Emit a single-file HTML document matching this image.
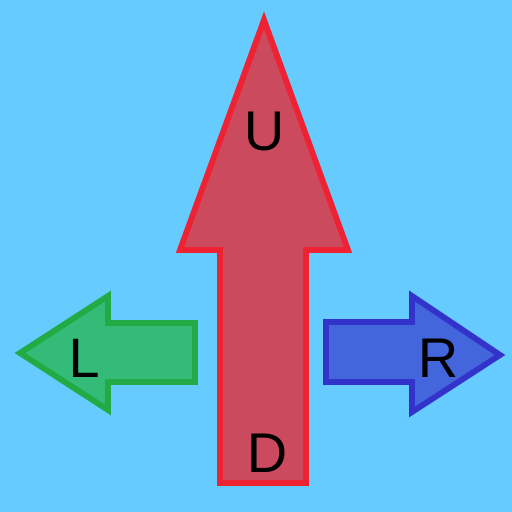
<!DOCTYPE html>
<html><head><meta charset="utf-8"><style>html,body{margin:0;padding:0;background:#66CCFF}svg{display:block}</style></head>
<body>
<svg width="512" height="512" viewBox="0 0 512 512">
<rect width="512" height="512" fill="#66CCFF"/>
<polygon points="264,20 348,250 306,250 306,483 220,483 220,250 180,250" fill="#CC4A5E" stroke="#EE2233" stroke-width="6" stroke-linejoin="miter"/>
<polygon points="20,353 108,296 108,323 195,323 195,382 108,382 108,410" fill="#33BB77" stroke="#22AA44" stroke-width="6"/>
<polygon points="500,355 412,296 412,322 326,322 326,382 412,382 412,412" fill="#4466DD" stroke="#3333CC" stroke-width="6"/>
<g font-family="Liberation Sans, DejaVu Sans, sans-serif" font-size="56" fill="#000" text-anchor="middle">
<text x="264" y="150">U</text>
<text x="267" y="472">D</text>
<text x="84" y="377">L</text>
<text x="438" y="377">R</text>
</g>
</svg>
</body></html>
